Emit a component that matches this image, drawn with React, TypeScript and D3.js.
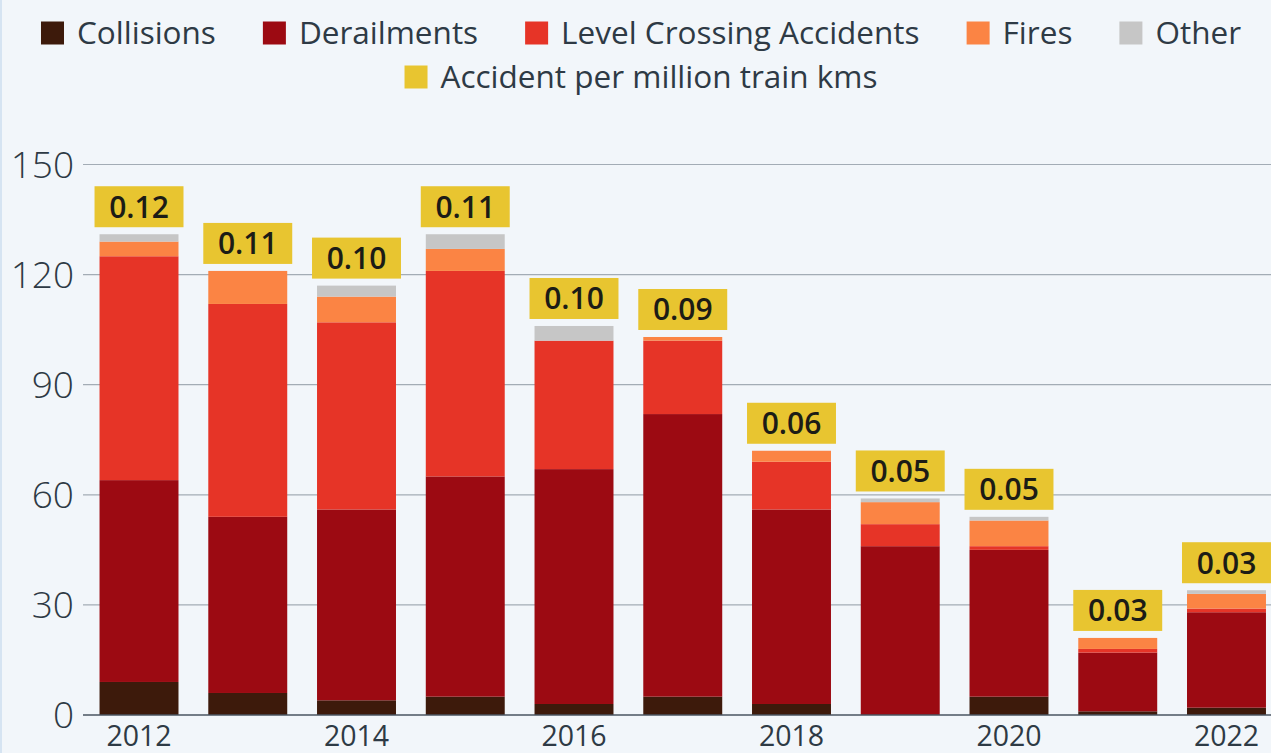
import React, { useMemo } from 'react';
import * as d3 from 'd3';

const W = 1271;
const H = 753;

const YEARS = ['2012', '2013', '2014', '2015', '2016', '2017', '2018', '2019', '2020', '2021', '2022'];
const COLLISIONS = [9, 6, 4, 5, 3, 5, 3, 0, 5, 1, 2];
const DERAILMENTS = [55, 48, 52, 60, 64, 77, 53, 46, 40, 16, 26];
const LEVEL_CROSSING = [61, 58, 51, 56, 35, 20, 13, 6, 1, 1, 1];
const FIRES = [4, 9, 7, 6, 0, 1, 3, 6, 7, 3, 4];
const OTHER = [2, 0, 3, 4, 4, 0, 0, 1, 1, 0, 1];
const RATE = ['0.12', '0.11', '0.10', '0.11', '0.10', '0.09', '0.06', '0.05', '0.05', '0.03', '0.03'];
const Y_TICKS = [0, 30, 60, 90, 120, 150];
const X_TICKS = ['2012', '2014', '2016', '2018', '2020', '2022'];

const SERIES = [
  { key: 'collisions', label: 'Collisions', color: '#3d1a0b', values: COLLISIONS },
  { key: 'derailments', label: 'Derailments', color: '#9c0a12', values: DERAILMENTS },
  { key: 'level', label: 'Level Crossing Accidents', color: '#e63427', values: LEVEL_CROSSING },
  { key: 'fires', label: 'Fires', color: '#fb8444', values: FIRES },
  { key: 'other', label: 'Other', color: '#c6c6c6', values: OTHER },
];
const RATE_LABEL = 'Accident per million train kms';
const YELLOW = '#e8c530';

const FONT = "'Open Sans', 'Noto Sans', sans-serif";
const TEXT = '#2e3a45';

function measure(text: string, size: number) {
  const c = document.createElement('canvas').getContext('2d')!;
  c.font = `${size}px 'Open Sans'`;
  return c.measureText(text).width;
}

function Legend() {
  const size = 31.5;
  const sq = 23;
  const rows = [
    SERIES.map(s => ({ label: s.label, color: s.color })),
    [{ label: RATE_LABEL, color: YELLOW }],
  ];
  const cx = 641;
  const rowY = [33, 77];
  return (
    <g>
      {rows.map((row, ri) => {
        const widths = row.map(it => sq + 13 + measure(it.label, size));
        const total = d3.sum(widths) + 47 * (row.length - 1);
        let x = cx - total / 2;
        return row.map((it, i) => {
          const x0 = x;
          x += widths[i] + 47;
          return (
            <g key={`${ri}-${i}`} transform={`translate(${x0},${rowY[ri]})`}>
              <rect x={0} y={-sq / 2} width={sq} height={sq} fill={it.color} />
              <text x={sq + 13} y={0} dy="0.35em" fontSize={size} fill={TEXT} fontFamily={FONT}>
                {it.label}
              </text>
            </g>
          );
        });
      })}
    </g>
  );
}

export default function App() {
  const x = d3.scaleBand<string>().domain(YEARS).range([68, 1297.5]).paddingInner(0.274).paddingOuter(0.29);
  const y = d3.scaleLinear().domain([0, 150]).range([715, 164.5]);

  const stacked = useMemo(() => {
    const rows = YEARS.map((yr, i) => {
      const r: any = { year: yr };
      SERIES.forEach(s => (r[s.key] = s.values[i]));
      return r;
    });
    return d3.stack().keys(SERIES.map(s => s.key))(rows);
  }, []);

  const totals = YEARS.map((_, i) => d3.sum(SERIES, s => s.values[i]));
  const bw = x.bandwidth();

  return (
    <svg width={W} height={H} style={{ position: 'absolute', left: 0, top: 0, display: 'block' }}>
      <rect width={W} height={H} fill="#f2f6fa" />
      <rect x={0} y={0} width={2} height={H} fill="#d6e4f2" />
      <Legend />

      {/* grid */}
      {Y_TICKS.filter(t => t > 0).map(t => (
        <line key={t} x1={83} x2={W} y1={y(t)} y2={y(t)} stroke="#a3acb5" strokeWidth={1.2} />
      ))}
      {Y_TICKS.map(t => (
        <text key={t} x={74} y={y(t)} dy="0.36em" textAnchor="end" fontSize={37} fontWeight={300}
          fill={TEXT} fontFamily={FONT}>{t}</text>
      ))}

      {/* bars */}
      {stacked.map((layer, li) => (
        <g key={layer.key} fill={SERIES[li].color}>
          {layer.map((d, i) => d[1] > d[0] ? (
            <rect key={i} x={x(YEARS[i])} y={y(d[1])} width={bw} height={y(d[0]) - y(d[1])} />
          ) : null)}
        </g>
      ))}

      <line x1={83} x2={W} y1={y(0)} y2={y(0)} stroke="#4a5560" strokeWidth={1.5} />

      {/* rate labels */}
      {YEARS.map((yr, i) => {
        const cx = x(yr)! + bw / 2;
        const bottom = y(totals[i]) - 7;
        return (
          <g key={yr}>
            <rect x={cx - (bw + 10) / 2} y={bottom - 41} width={bw + 10} height={41} fill={YELLOW} />
            <text x={cx} y={bottom - 20.5} dy="0.36em" textAnchor="middle" fontSize={30} fontWeight={600}
              fill="#1c1c16" fontFamily={FONT}>{RATE[i]}</text>
          </g>
        );
      })}

      {X_TICKS.map(t => (
        <text key={t} x={x(t)! + bw / 2} y={746} textAnchor="middle" fontSize={28.5} fill={TEXT} fontFamily={FONT}>{t}</text>
      ))}
    </svg>
  );
}
